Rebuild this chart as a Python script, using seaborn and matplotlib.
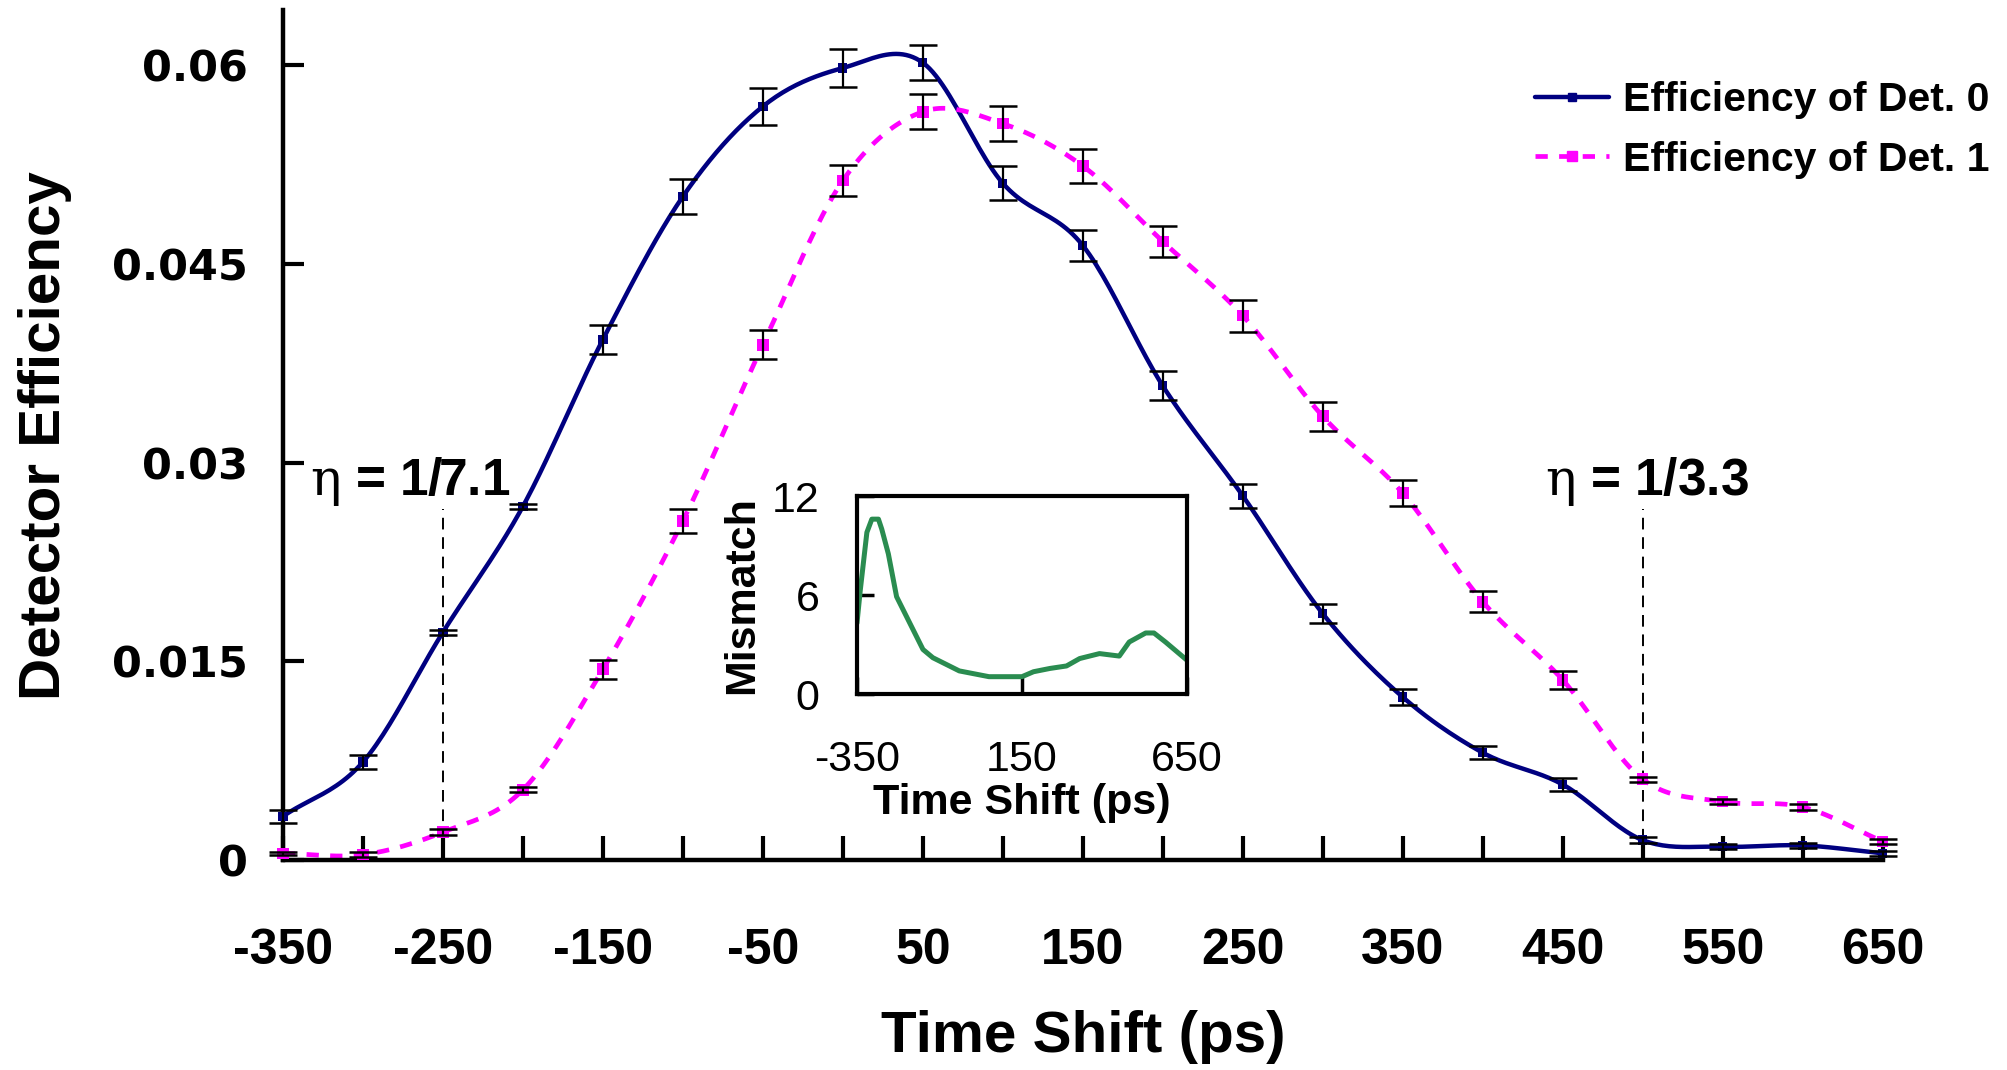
import numpy as np
import pandas as pd
import seaborn as sns
import matplotlib.pyplot as plt
from matplotlib.lines import Line2D
from matplotlib.ticker import FixedLocator

# time shift grid (ps) and detector efficiencies
shift_ps = [-350, -300, -250, -200, -150, -100, -50, 0, 50, 100, 150,
            200, 250, 300, 350, 400, 450, 500, 550, 600, 650]
eff_det0 = [0.0033, 0.0074, 0.0172, 0.0267, 0.0393, 0.0501, 0.0569, 0.0598,
            0.0602, 0.0511, 0.0464, 0.0358, 0.0275, 0.0186, 0.0123, 0.0081,
            0.0057, 0.0015, 0.0010, 0.0011, 0.0005]
err_det0 = [0.0005, 0.0005, 0.0002, 0.0002, 0.0011, 0.0013, 0.0014, 0.0014,
            0.0013, 0.0013, 0.0012, 0.0011, 0.0009, 0.0007, 0.0006, 0.0005,
            0.0005, 0.0002, 0.0002, 0.0002, 0.0002]
eff_det1 = [0.0005, 0.0004, 0.0021, 0.0053, 0.0144, 0.0256, 0.0389, 0.0513,
            0.0565, 0.0556, 0.0524, 0.0467, 0.0411, 0.0335, 0.0277, 0.0195,
            0.0136, 0.0061, 0.0044, 0.0040, 0.0014]
err_det1 = [0.0001, 0.0002, 0.0002, 0.0002, 0.0007, 0.0009, 0.0011, 0.0012,
            0.0013, 0.0013, 0.0013, 0.0012, 0.0012, 0.0011, 0.0010, 0.0008,
            0.0007, 0.0002, 0.0002, 0.0002, 0.0002]

# inset: efficiency mismatch vs time shift
mismatch_shift = [-350, -340, -320, -305, -285, -275, -255, -230, -200, -150,
                  -120, -40, 50, 150, 185, 235, 285, 325, 385, 445, 475,
                  525, 550, 585, 650]
mismatch_val = [4.3, 6.3, 9.8, 10.6, 10.6, 10.0, 8.5, 5.9, 4.7, 2.7,
                2.2, 1.4, 1.05, 1.05, 1.35, 1.55, 1.7, 2.15, 2.45, 2.3, 3.15,
                3.7, 3.7, 3.15, 2.05]

eta_shift = [-250, 500]
eta_labels = ["1/7.1", "1/3.3"]
eta_height = 0.0265

y_ticks = [0, 0.015, 0.03, 0.045, 0.06]
y_ticklabels = ["0", "0.015", "0.03", "0.045", "0.06"]

NAVY = "#000080"
MAGENTA = "#FF00FF"
GREEN = "#2A8C50"


def smooth_curve(x, y, n=24):
    """Catmull-Rom style smoothing, like a spreadsheet 'smoothed line'."""
    x = np.asarray(x, float)
    y = np.asarray(y, float)
    yp = np.concatenate([[2 * y[0] - y[1]], y, [2 * y[-1] - y[-2]]])
    xs, ys = [], []
    t = np.linspace(0, 1, n, endpoint=False)
    h00 = 2 * t**3 - 3 * t**2 + 1
    h10 = t**3 - 2 * t**2 + t
    h01 = -2 * t**3 + 3 * t**2
    h11 = t**3 - t**2
    for i in range(len(x) - 1):
        m0 = (yp[i + 2] - yp[i]) / 2
        m1 = (yp[i + 3] - yp[i + 1]) / 2
        xs.append(x[i] + t * (x[i + 1] - x[i]))
        ys.append(h00 * y[i] + h10 * m0 + h01 * y[i + 1] + h11 * m1)
    xs.append([x[-1]])
    ys.append([y[-1]])
    return pd.DataFrame({"shift": np.concatenate(xs), "eff": np.concatenate(ys)})


sns.set_style("ticks")
plt.rcParams["font.family"] = ["Liberation Sans", "DejaVu Sans"]
plt.rcParams["mathtext.fontset"] = "dejavuserif"
plt.rcParams["axes.unicode_minus"] = False
for key in ["text.color", "axes.labelcolor", "xtick.color", "ytick.color",
            "axes.edgecolor"]:
    plt.rcParams[key] = "black"

fig = plt.figure(figsize=(20.07, 10.70), dpi=100)
ax = fig.add_axes([0.141, 0.1963, 0.797, 0.794])

# smoothed curves
sns.lineplot(data=smooth_curve(shift_ps, eff_det0), x="shift", y="eff", ax=ax,
             color=NAVY, linewidth=3.2, clip_on=False, zorder=2, legend=False)
sns.lineplot(data=smooth_curve(shift_ps, eff_det1), x="shift", y="eff", ax=ax,
             color=MAGENTA, linewidth=3.4, clip_on=False, zorder=2,
             legend=False, dashes=False)
ax.lines[-1].set_linestyle((0, (2.6, 2.4)))

# point markers
sns.scatterplot(x=shift_ps, y=eff_det0, ax=ax, marker="s", s=45, color=NAVY,
                edgecolor="none", clip_on=False, zorder=3, legend=False)
sns.scatterplot(x=shift_ps, y=eff_det1, ax=ax, marker="s", s=70, color=MAGENTA,
                edgecolor="none", clip_on=False, zorder=3, legend=False)

# error bars
ax.errorbar(shift_ps, eff_det0, yerr=err_det0, fmt="none", ecolor="black",
            elinewidth=1.6, capsize=10, capthick=1.8, zorder=4, clip_on=False)
ax.errorbar(shift_ps, eff_det1, yerr=err_det1, fmt="none", ecolor="black",
            elinewidth=1.6, capsize=10, capthick=1.8, zorder=4, clip_on=False)

# eta markers
ax.vlines(eta_shift, 0, eta_height, colors="black", linewidth=1.4,
          linestyles=(0, (6, 4)), zorder=1)
for xs, lab, dx in zip(eta_shift, eta_labels, [-96, -70]):
    ax.annotate(r"$\mathrm{\eta}$ = " + lab, xy=(xs, eta_height),
                xytext=(dx, 1), textcoords="offset points", ha="left",
                va="bottom", fontsize=37, fontweight="bold")

ax.set_xlim(-350, 650)
ax.set_ylim(0, 0.06415)
ax.xaxis.set_major_locator(FixedLocator(list(range(-350, 651, 100))))
ax.xaxis.set_minor_locator(FixedLocator(list(range(-300, 651, 100))))
ax.set_yticks(y_ticks)
ax.set_yticklabels(y_ticklabels)
for lab in ax.get_yticklabels():
    lab.set_fontfamily("DejaVu Sans")
ax.tick_params(axis="x", which="both", direction="in", length=17, width=3,
               pad=49, labelsize=36, color="black", labelcolor="black")
ax.tick_params(axis="y", direction="in", length=15, width=3, pad=25,
               labelsize=31, color="black", labelcolor="black")
for lab in ax.get_xticklabels() + ax.get_yticklabels():
    lab.set_fontweight("bold")
sns.despine(ax=ax)
for side in ["left", "bottom"]:
    ax.spines[side].set_linewidth(3.2)
    ax.spines[side].set_color("black")
ax.set_xlabel("Time Shift (ps)", fontsize=42, fontweight="bold", labelpad=26)
ax.set_ylabel("Detector Efficiency", fontsize=42, fontweight="bold",
              labelpad=29)

handles = [
    Line2D([], [], color=NAVY, linewidth=3.2, marker="s", markersize=6),
    Line2D([], [], color=MAGENTA, linewidth=3.4, linestyle=(0, (2.6, 2.4)),
           marker="s", markersize=7),
]
fig.legend(handles, ["Efficiency of Det. 0", "Efficiency of Det. 1"],
           loc="upper left", bbox_to_anchor=(0.765, 0.924), frameon=False,
           prop={"size": 29.5, "weight": "bold"}, handlelength=1.8,
           handletextpad=0.35, labelspacing=0.52, borderpad=0,
           borderaxespad=0)

# inset
axin = fig.add_axes([0.427, 0.3514, 0.1644, 0.185])
sns.lineplot(x=mismatch_shift, y=mismatch_val, ax=axin, color=GREEN,
             linewidth=3.6)
axin.set_xlim(-350, 650)
axin.set_ylim(0, 12)
axin.set_xticks([-350, 150, 650])
axin.set_yticks([0, 6, 12])
axin.tick_params(axis="x", direction="in", length=12, width=2.5, pad=33,
                 labelsize=31, color="black", labelcolor="black")
axin.tick_params(axis="y", direction="in", length=12, width=2.5, pad=27,
                 labelsize=31, color="black", labelcolor="black")
for side in axin.spines.values():
    side.set_linewidth(3)
    side.set_color("black")
axin.set_xlabel("Time Shift (ps)", fontsize=31, fontweight="bold", labelpad=2)
axin.set_ylabel("Mismatch", fontsize=31, fontweight="bold", labelpad=7)

fig.savefig("out.png", dpi=100)
